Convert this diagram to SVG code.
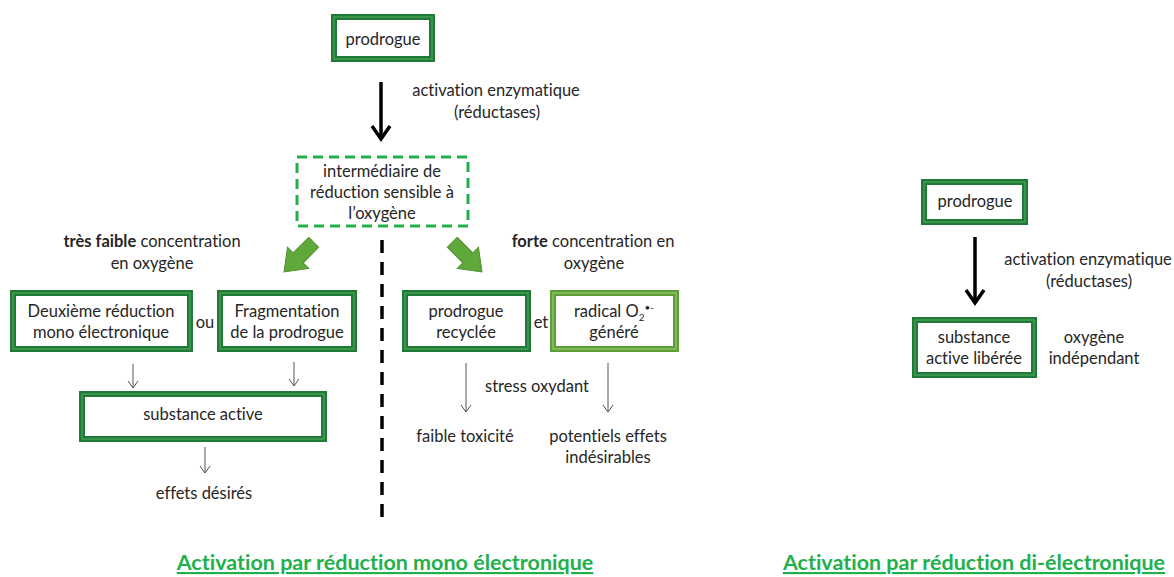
<svg xmlns="http://www.w3.org/2000/svg" width="1174" height="577" viewBox="0 0 1174 577">
<style>
text{font-family:Lato,"Liberation Sans",sans-serif;font-size:16.5px;fill:#262626;text-anchor:middle;font-variant-ligatures:none}
.b{font-weight:bold}
.title{font-weight:bold;font-size:21.5px;fill:#22b04c;text-decoration:underline}
.box{fill:#fff;stroke:#1f7a36;stroke-width:6}
.boxin{fill:none;stroke:#4fa35e;stroke-width:1.2}
.rbox{fill:#fff;stroke:#5d9e3a;stroke-width:6}
.rin{fill:none;stroke:#8cc466;stroke-width:1.5}
.thin{stroke:#555;stroke-width:1;fill:none}
.thick{stroke:#000;stroke-width:3.5;fill:none}
.garrow{fill:#5fa83a;stroke:#4f8f30;stroke-width:1}
</style>
<defs>
<marker id="ah" markerWidth="12" markerHeight="12" refX="10" refY="6" orient="auto" markerUnits="userSpaceOnUse" viewBox="0 0 12 12">
<path d="M3,1 L10,6 L3,11" fill="none" stroke="#555" stroke-width="1"/>
</marker>
</defs>

<g id="connectors">
<line class="thick" x1="381" y1="82" x2="381" y2="138"/>
<path class="thick" d="M372,126 L381,139 L390,126"/>
<line class="thick" x1="975" y1="237" x2="975" y2="302"/>
<path class="thick" d="M966,290 L975,303 L984,290"/>
<path class="garrow" transform="translate(284,272) rotate(135)" d="M-42,-7 L-20,-7 L-20,-15 L0,0 L-20,15 L-20,7 L-42,7 Z"/>
<path class="garrow" transform="translate(482,272) rotate(45)" d="M-42,-7 L-20,-7 L-20,-15 L0,0 L-20,15 L-20,7 L-42,7 Z"/>
<line class="thin" x1="133" y1="364" x2="133" y2="388" marker-end="url(#ah)"/>
<line class="thin" x1="294" y1="362" x2="294" y2="386" marker-end="url(#ah)"/>
<line class="thin" x1="205" y1="447" x2="205" y2="473" marker-end="url(#ah)"/>
<line class="thin" x1="466" y1="363" x2="466" y2="412" marker-end="url(#ah)"/>
<line class="thin" x1="608" y1="363" x2="608" y2="412" marker-end="url(#ah)"/>
<line x1="382" y1="240" x2="382" y2="522" stroke="#000" stroke-width="3.5" stroke-dasharray="13,9"/>
</g>

<g id="prodrogue1">
<rect class="box" x="334" y="17" width="98" height="42"/>
<rect class="boxin" x="334" y="17" width="98" height="42"/>
<text x="383" y="45">prodrogue</text>
</g>
<g id="label-activation1">
<text x="496" y="96">activation  enzymatique</text>
<text x="497" y="118">(réductases)</text>
</g>
<g id="intermediaire">
<rect x="297" y="157" width="171" height="69" fill="#fff" stroke="#22b04c" stroke-width="3" stroke-dasharray="10,6"/>
<text x="382" y="177">intermédiaire de</text>
<text x="382" y="198">réduction sensible à</text>
<text x="382" y="219">l’oxygène</text>
</g>
<g id="label-faible">
<text x="152" y="247"><tspan class="b">très faible</tspan> concentration</text>
<text x="152" y="269">en oxygène</text>
</g>
<g id="deuxieme">
<rect class="box" x="13" y="293" width="177" height="56"/>
<rect class="boxin" x="13" y="293" width="177" height="56"/>
<text x="101" y="317">Deuxième réduction</text>
<text x="101" y="338">mono électronique</text>
</g>
<text x="205" y="328">ou</text>
<g id="fragmentation">
<rect class="box" x="220" y="293" width="134" height="56"/>
<rect class="boxin" x="220" y="293" width="134" height="56"/>
<text x="287" y="317">Fragmentation</text>
<text x="287" y="338">de la prodrogue</text>
</g>
<g id="substance">
<rect class="box" x="82" y="394" width="242" height="45"/>
<rect class="boxin" x="82" y="394" width="242" height="45"/>
<text x="203" y="420">substance active</text>
</g>
<g id="effets">
<text x="204" y="499">effets désirés</text>
</g>
<g id="label-forte">
<text x="593" y="247"><tspan class="b">forte</tspan> concentration en</text>
<text x="594" y="269">oxygène</text>
</g>
<g id="recyclee">
<rect class="box" x="405" y="293" width="123" height="56"/>
<rect class="boxin" x="405" y="293" width="123" height="56"/>
<text x="466" y="317">prodrogue</text>
<text x="466" y="338">recyclée</text>
</g>
<text x="541" y="328">et</text>
<g id="radical">
<rect class="rbox" x="553" y="293" width="123" height="56"/>
<rect class="rin" x="553" y="293" width="123" height="56"/>
<text x="614" y="317">radical O<tspan font-size="10" dy="4">2</tspan><tspan font-size="10" dy="-10">•-</tspan></text>
<text x="614" y="338">généré</text>
</g>
<text x="537" y="392">stress oxydant</text>
<g id="toxicite">
<text x="465" y="442">faible toxicité</text>
</g>
<g id="indesirables">
<text x="608" y="442">potentiels effets</text>
<text x="608" y="463">indésirables</text>
</g>

<g id="prodrogue2">
<rect class="box" x="924" y="182" width="101" height="40"/>
<rect class="boxin" x="924" y="182" width="101" height="40"/>
<text x="975" y="207">prodrogue</text>
</g>
<g id="label-activation2">
<text x="1088" y="265">activation enzymatique</text>
<text x="1089" y="287">(réductases)</text>
</g>
<g id="liberee">
<rect class="box" x="915" y="320" width="119" height="55"/>
<rect class="boxin" x="915" y="320" width="119" height="55"/>
<text x="974" y="343">substance</text>
<text x="974" y="364">active libérée</text>
</g>
<g id="label-independant">
<text x="1094" y="343">oxygène</text>
<text x="1094" y="364">indépendant</text>
</g>

<text class="title" x="385" y="570">Activation par réduction mono électronique</text>
<text class="title" x="974" y="570">Activation par réduction di-électronique</text>
</svg>
